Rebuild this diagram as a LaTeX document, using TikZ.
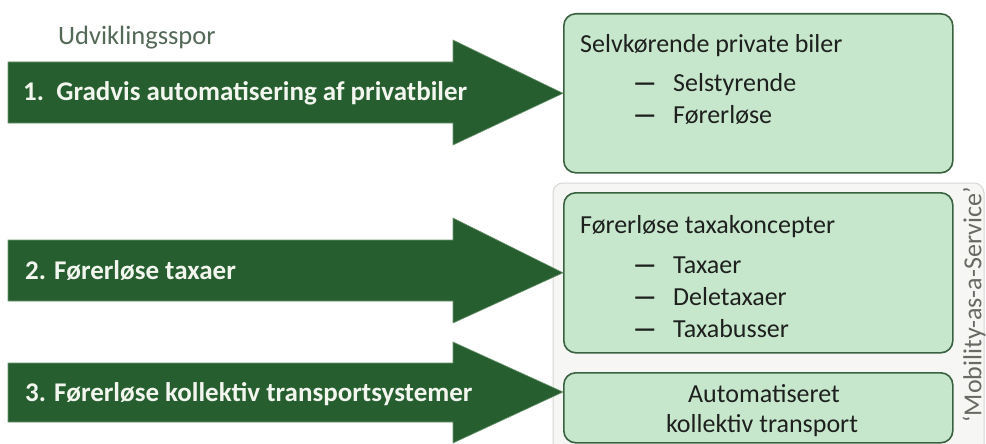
\documentclass[tikz,border=0pt]{standalone}
\usepackage{fontspec}
\usetikzlibrary{calc}
\setmainfont{Carlito}
\definecolor{arrowgreen}{RGB}{38,94,48}
\definecolor{arrowedge}{RGB}{110,150,112}
\definecolor{arrowtextc}{RGB}{242,246,238}
\definecolor{boxfill}{RGB}{199,231,205}
\definecolor{boxline}{RGB}{58,98,64}
\definecolor{maasfill}{RGB}{246,246,244}
\definecolor{maasline}{RGB}{214,216,212}
\definecolor{labelc}{RGB}{84,104,88}
\definecolor{sidec}{RGB}{105,105,100}
\definecolor{boxtextc}{RGB}{30,32,30}
\begin{document}
\begin{tikzpicture}[x=1pt,y=-1pt,
  bigarrow/.style={fill=arrowgreen, draw=arrowedge, line width=0.6pt, line join=miter},
  arrowtext/.style={anchor=base west, inner sep=0, text=arrowtextc, font=\fontsize{27}{32}\selectfont\bfseries},
  greenbox/.style={draw=boxline, fill=boxfill, line width=1.6pt, rounded corners=12pt, anchor=north west, inner sep=0, minimum width=389pt},
  maasbox/.style={draw=maasline, fill=maasfill, line width=1pt, rounded corners=10pt},
  boxtext/.style={anchor=base west, inner sep=0, text=boxtextc, font=\fontsize{26}{31}\selectfont},
  dashtext/.style={anchor=base west, inner sep=0, text=boxtextc, font=\fontsize{26}{31}\selectfont\bfseries},
  centertext/.style={anchor=base, inner sep=0, text=boxtextc, font=\fontsize{26}{31}\selectfont},
  toplabel/.style={anchor=base west, inner sep=0, text=labelc, font=\fontsize{26.5}{31}\selectfont},
  sidelabel/.style={inner sep=0, text=sidec, rotate=90, font=\fontsize{26}{31}\selectfont}]
\useasboundingbox (0,0) rectangle (986,444);
\clip (0,0) rectangle (986,444);
\fill[white] (0,0) rectangle (986,444);

% Mobility-as-a-Service container
\draw[maasbox] (553,183) rectangle (984,470);

% boxes
\node[greenbox, minimum height=159pt] (b1) at (563,13) {};
\node[greenbox, minimum height=160pt] (b2) at (563,192) {};
\node[greenbox, minimum height=70pt] (b3) at (563,372) {};

% arrow tips
\coordinate (t1) at (b1.west);
\coordinate (t2) at (b2.west);
\coordinate (t3) at ($(b3.north west)+(0,20)$);

% arrows
\draw[bigarrow] (8,62) -- (453,62) -- (453,40) -- (t1) -- (453,145) -- (453,123) -- (8,123) -- cycle;
\draw[bigarrow] (8,240) -- (453,240) -- (453,218) -- (t2) -- (453,323) -- (453,301) -- (8,301) -- cycle;
\draw[bigarrow] (8,363) -- (453,363) -- (453,342) -- (t3) -- (453,443) -- (453,422) -- (8,422) -- cycle;

% labels
\node[toplabel] (lab) at (58,45) {Udviklingsspor};
\node[arrowtext] (a1) at (23,101) {1.\ \ Gradvis automatisering af privatbiler};
\node[arrowtext] (a2) at (25,279) {2. Førerløse taxaer};
\node[arrowtext] (a3) at (25,401) {3. Førerløse kollektiv transportsystemer};

% box 1 text
\node[boxtext] (h1) at (580,53) {Selvkørende private biler};
\node[dashtext] (d11) at (633,92) {—};
\node[boxtext] (i11) at (673,92) {Selstyrende};
\node[dashtext] (d12) at (633,124) {—};
\node[boxtext] (i12) at (673,124) {Førerløse};

% box 2 text
\node[boxtext] (h2) at (580,233) {Førerløse taxakoncepter};
\node[dashtext] (d21) at (633,273) {—};
\node[boxtext] (i21) at (673,273) {Taxaer};
\node[dashtext] (d22) at (633,305) {—};
\node[boxtext] (i22) at (673,305) {Deletaxaer};
\node[dashtext] (d23) at (633,337) {—};
\node[boxtext] (i23) at (673,337) {Taxabusser};

% box 3 text
\node[centertext] (h3a) at (764,402) {Automatiseret};
\node[centertext] (h3b) at (762,432) {kollektiv transport};

% side label
\node[sidelabel] (maas) at (974,305) {‘Mobility-as-a-Service’};
\end{tikzpicture}
\end{document}
